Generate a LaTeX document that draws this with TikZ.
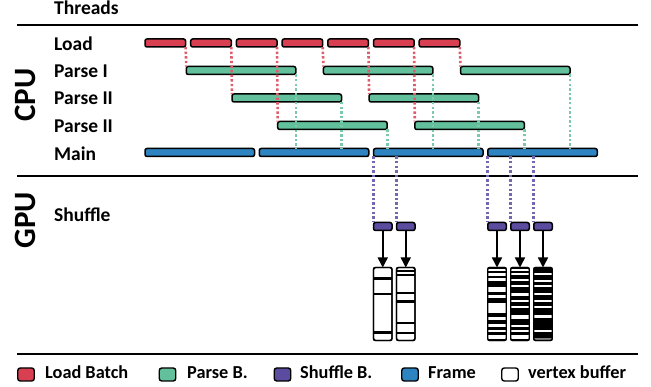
\documentclass[tikz,border=0pt]{standalone}
\usepackage{fontspec}
\setmainfont{Carlito}
\usetikzlibrary{arrows.meta}
\definecolor{cload}{RGB}{216,64,82}
\definecolor{cparse}{RGB}{98,192,156}
\definecolor{cshuf}{RGB}{92,76,160}
\definecolor{cframe}{RGB}{45,132,192}
\begin{document}
\begin{tikzpicture}[x=1pt,y=-1pt,
  bar/.style={draw=black, line width=1.5pt, rounded corners=2pt, minimum height=8pt, inner sep=0pt, outer sep=0pt, anchor=west},
  loadbar/.style={bar, fill=cload, minimum width=40.6pt},
  parsebar/.style={bar, fill=cparse, minimum width=109.5pt},
  mainbar/.style={bar, fill=cframe, minimum width=109.5pt},
  shufbox/.style={bar, fill=cshuf, minimum width=18.5pt},
  vbuf/.style={draw=black, line width=1.4pt, rounded corners=2pt, minimum width=18.5pt, minimum height=73pt, inner sep=0pt, outer sep=0pt, anchor=north west},
  vout/.style={draw=black, line width=1.4pt, rounded corners=2pt},
  dotline/.style={line width=2.6pt, dash pattern=on 2.4pt off 2.2pt},
  reddot/.style={dotline, draw=cload!85!white},
  greendot/.style={dotline, draw=cparse!85!white},
  purpdot/.style={dotline, draw=cshuf!85!white},
  arr/.style={line width=1.5pt, -{Triangle[width=10pt,length=10pt]}},
  rule/.style={line width=2.4pt},
  lbl/.style={font=\fontsize{19.5}{22}\selectfont\bfseries, anchor=base west, inner sep=0pt},
  big/.style={font=\fontsize{31}{34}\selectfont\bfseries, anchor=base, rotate=90, inner sep=0pt},
  legtxt/.style={font=\fontsize{18.3}{20}\selectfont\bfseries, anchor=base west, inner sep=0pt},
  legsq/.style={draw=black, line width=1.4pt, rounded corners=2.5pt, minimum width=16.5pt, minimum height=13pt, inner sep=0pt}
]
\useasboundingbox (0,0) rectangle (651,387);

% rules
\draw[rule] (17,25) -- (638,25);
\draw[rule] (17,176) -- (638,176);
\draw[rule] (17,354) -- (638,354);

% labels
\node[lbl] (tThreads) at (54,15) {Threads};
\node[lbl] (tLoad) at (54,51) {Load};
\node[lbl] (tP1) at (54,77.5) {Parse I};
\node[lbl] (tP2) at (54,105) {Parse II};
\node[lbl] (tP3) at (54,132.5) {Parse II};
\node[lbl] (tMain) at (54,161) {Main};
\node[lbl] (tShuf) at (54,222) {Shuffle};
\node[big] (tCPU) at (35.5,95) {CPU};
\node[big] (tGPU) at (35.5,220) {GPU};

% load bars
\foreach \k/\x in {1/145.0,2/190.7,3/236.4,4/282.1,5/327.8,6/373.5,7/419.2}
  \node[loadbar] (L\k) at (\x,43) {};
% parse bars
\node[parsebar] (P1a) at (186.3,70.5) {};
\node[parsebar] (P2a) at (232.0,98) {};
\node[parsebar] (P3a) at (277.7,125.5) {};
\node[parsebar] (P1b) at (323.4,70.5) {};
\node[parsebar] (P2b) at (369.1,98) {};
\node[parsebar] (P3b) at (414.8,125.5) {};
\node[parsebar] (P1c) at (460.5,70.5) {};
% main bars
\node[mainbar] (M1) at (145,152.5) {};
\node[mainbar] (M2) at (259.25,152.5) {};
\node[mainbar] (M3) at (373.5,152.5) {};
\node[mainbar] (M4) at (487.75,152.5) {};
% shuffle boxes
\node[shufbox] (S1) at (373.5,226.5) {};
\node[shufbox] (S2) at (396.5,226.5) {};
\node[shufbox] (S3) at (487.75,226.5) {};
\node[shufbox] (S4) at (510.75,226.5) {};
\node[shufbox] (S5) at (533.75,226.5) {};

% red dotted: load -> parse
\draw[reddot] (L1.south east) -- (P1a.north west);
\draw[reddot] (L2.south east) -- (P2a.north west);
\draw[reddot] (L3.south east) -- (P3a.north west);
\draw[reddot] (L4.south east) -- (P1b.north west);
\draw[reddot] (L5.south east) -- (P2b.north west);
\draw[reddot] (L6.south east) -- (P3b.north west);
\draw[reddot] (L7.south east) -- (P1c.north west);
% green dotted: parse -> main
\draw[greendot] (P1a.south east) -- (P1a.south east |- M2.north);
\draw[greendot] (P2a.south east) -- (P2a.south east |- M2.north);
\draw[greendot] (P3a.south east) -- (P3a.south east |- M3.north);
\draw[greendot] (P1b.south east) -- (P1b.south east |- M3.north);
\draw[greendot] (P2b.south east) -- (P2b.south east |- M3.north);
\draw[greendot] (P3b.south east) -- (P3b.south east |- M4.north);
\draw[greendot] (P1c.south east) -- (P1c.south east |- M4.north);
% purple dotted: main -> shuffle
\draw[purpdot] (S1.north west |- M3.south) -- (S1.north west);
\draw[purpdot] (S2.north west |- M3.south) -- (S2.north west);
\draw[purpdot] (S3.north west |- M4.south) -- (S3.north west);
\draw[purpdot] (S4.north west |- M4.south) -- (S4.north west);
\draw[purpdot] (S5.north west |- M4.south) -- (S5.north west);

% vertex buffers
\node[vbuf, fill=white] (V1) at (373.5,267.5) {};
\foreach \a/\b in {277.5/280.5, 293/295.5, 331.5/334}
  \fill[black] (373.5,\a) rectangle (392,\b);
\draw[vout] (V1.north west) rectangle (V1.south east);

\node[vbuf, fill=white] (V2) at (396.5,267.5) {};
\foreach \a/\b in {270/271.7, 274/276, 292/294.2, 300.5/303, 322/324.5, 332/333.7}
  \fill[black] (396.5,\a) rectangle (415,\b);
\draw[vout] (V2.north west) rectangle (V2.south east);

\node[vbuf, fill=black] (V3) at (487.75,267.5) {};
\foreach \a/\b in {269/271, 273.2/275.8, 278.5/281, 287/292, 295/298, 303/313, 317/320, 324.5/327, 330/332, 335/339}
  \fill[white] (488.4,\a) rectangle (505.6,\b);
\draw[vout] (V3.north west) rectangle (V3.south east);

\node[vbuf, fill=black] (V4) at (510.75,267.5) {};
\foreach \a/\b in {269/271, 273.2/275, 279/281, 285/287, 293/296, 300/302, 306.5/308, 315/319, 325/327, 330/332, 335/339}
  \fill[white] (511.4,\a) rectangle (528.6,\b);
\draw[vout] (V4.north west) rectangle (V4.south east);

\node[vbuf, fill=black] (V5) at (533.75,267.5) {};
\foreach \a/\b in {273/275, 280/282, 285/287, 293/295, 300/302, 306.5/308, 315/318, 330/332}
  \fill[white] (534.4,\a) rectangle (551.6,\b);
\fill[gray] (534.4,338.5) rectangle (551.6,340);
\draw[vout] (V5.north west) rectangle (V5.south east);

% arrows
\draw[arr] (S1.south) -- (V1.north);
\draw[arr] (S2.south) -- (V2.north);
\draw[arr] (S3.south) -- (V3.north);
\draw[arr] (S4.south) -- (V4.north);
\draw[arr] (S5.south) -- (V5.north);

% legend
\node[legsq, fill=cload] (q1) at (26,374.5) {};
\node[legtxt] (l1) at (45,379) {Load Batch};
\node[legsq, fill=cparse] (q2) at (167.5,374.5) {};
\node[legtxt] (l2) at (187,379) {Parse B.};
\node[legsq, fill=cshuf] (q3) at (282.5,374.5) {};
\node[legtxt] (l3) at (300,379) {Shuffle B.};
\node[legsq, fill=cframe] (q4) at (410,374.5) {};
\node[legtxt] (l4) at (428,379) {Frame};
\node[legsq, fill=white] (q5) at (510,374.5) {};
\node[legtxt] (l5) at (528,379) {vertex buffer};
\end{tikzpicture}
\end{document}
